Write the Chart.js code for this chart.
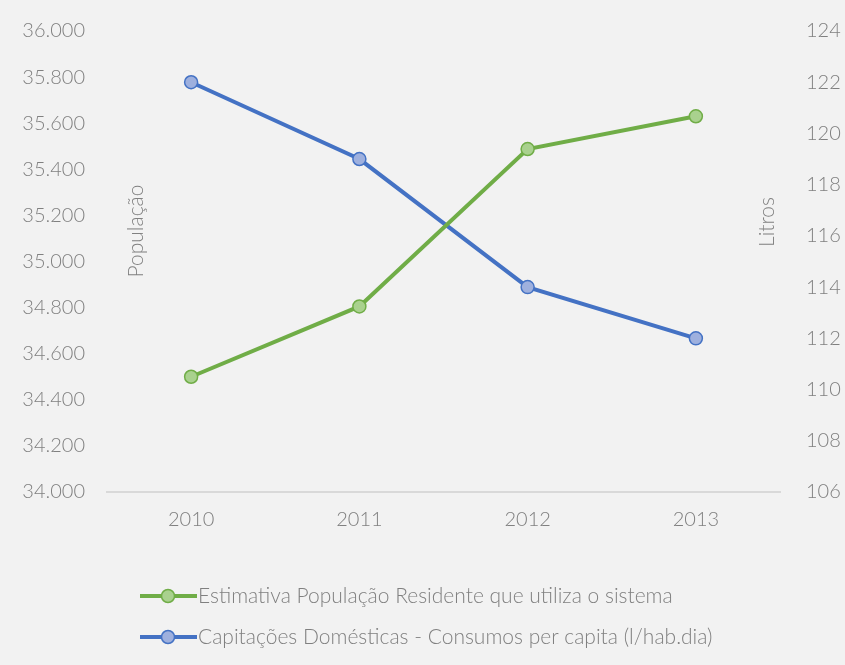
<!DOCTYPE html>
<html>
<head>
<meta charset="utf-8">
<script src="https://cdn.jsdelivr.net/npm/chart.js@4"></script>
<style>
  html, body { margin: 0; padding: 0; background: #f2f2f2; }
  #wrap { width: 845px; height: 665px; }
</style>
</head>
<body>
<div id="wrap"><canvas id="c" width="845" height="665"></canvas></div>
<script>
const categories = ['2010', '2011', '2012', '2013'];
const populacao = [34500, 34805, 35488, 35630];
const capitacoes = [122, 119, 114, 112];
const seriesNames = [
  'Estimativa População Residente que utiliza o sistema',
  'Capitações Domésticas - Consumos per capita (l/hab.dia)'
];
const leftTitle = 'População';
const rightTitle = 'Litros';

const FONT = 'Lato, "Open Sans", sans-serif';
const TXT = '#808080';
const GREEN = '#70ad47', GREEN_FILL = '#a9d18e';
const BLUE = '#4472c4', BLUE_FILL = '#9eb0de';

const fmtPT = v => {
  const s = Math.round(v).toString();
  return s.replace(/\B(?=(\d{3})+(?!\d))/g, '.');
};

const decor = {
  id: 'decor',
  beforeDraw(chart) {
    const ctx = chart.ctx;
    ctx.save();
    ctx.fillStyle = '#f2f2f2';
    ctx.fillRect(0, 0, chart.width, chart.height);
    ctx.restore();
  },
  afterDraw(chart) {
    const ctx = chart.ctx;
    const a = chart.chartArea;
    ctx.save();
    ctx.fillStyle = TXT;
    ctx.font = '300 21px ' + FONT;
    ctx.textAlign = 'center';
    ctx.textBaseline = 'middle';
    // axis titles
    ctx.save();
    ctx.translate(a.left + 29, a.top + 200);
    ctx.rotate(-Math.PI / 2);
    ctx.fillText(leftTitle, 0, 0);
    ctx.restore();
    ctx.save();
    ctx.translate(a.right - 13, a.top + 191);
    ctx.rotate(-Math.PI / 2);
    ctx.fillText(rightTitle, 0, 0);
    ctx.restore();
    // legend
    const rows = [596, 637];
    chart.data.datasets.forEach((ds, i) => {
      const y = rows[i];
      ctx.strokeStyle = ds.borderColor;
      ctx.lineWidth = 4;
      ctx.beginPath();
      ctx.moveTo(140, y);
      ctx.lineTo(197, y);
      ctx.stroke();
      ctx.beginPath();
      ctx.arc(168, y, 6.5, 0, Math.PI * 2);
      ctx.fillStyle = ds.pointBackgroundColor;
      ctx.fill();
      ctx.lineWidth = 1.5;
      ctx.stroke();
      ctx.fillStyle = TXT;
      ctx.textAlign = 'left';
      ctx.fillText(ds.label, 198, y);
    });
    ctx.restore();
  }
};

function fitY(w) {
  return s => { s.width = w; s.paddingTop = 0; s.paddingBottom = 0; };
}

new Chart(document.getElementById('c'), {
  type: 'line',
  data: {
    labels: categories,
    datasets: [
      {
        label: seriesNames[0],
        data: populacao,
        yAxisID: 'y',
        borderColor: GREEN,
        backgroundColor: GREEN,
        pointBackgroundColor: GREEN_FILL,
        pointBorderColor: GREEN,
        pointBorderWidth: 1.5,
        pointRadius: 6.5,
        borderWidth: 4,
        tension: 0
      },
      {
        label: seriesNames[1],
        data: capitacoes,
        yAxisID: 'y1',
        borderColor: BLUE,
        backgroundColor: BLUE,
        pointBackgroundColor: BLUE_FILL,
        pointBorderColor: BLUE,
        pointBorderWidth: 1.5,
        pointRadius: 6.5,
        borderWidth: 4,
        tension: 0
      }
    ]
  },
  options: {
    responsive: false,
    animation: false,
    layout: { padding: { top: 31, left: 0, right: 0, bottom: 0 } },
    plugins: { legend: { display: false }, tooltip: { enabled: false } },
    scales: {
      x: {
        offset: true,
        grid: { display: false, drawTicks: false },
        border: { display: true, color: '#d9d9d9', width: 2 },
        ticks: { color: TXT, font: { family: FONT, size: 20, weight: 300 }, padding: 16 },
        afterFit(s) { s.height = 173; s.paddingLeft = 0; s.paddingRight = 0; }
      },
      y: {
        position: 'left',
        min: 34000, max: 36000,
        grid: { display: false, drawTicks: false },
        border: { display: false },
        ticks: {
          stepSize: 200,
          color: TXT,
          font: { family: FONT, size: 20, weight: 300 },
          padding: 22,
          callback: v => fmtPT(v)
        },
        afterFit: fitY(107)
      },
      y1: {
        position: 'right',
        min: 106, max: 124,
        grid: { display: false, drawTicks: false },
        border: { display: false },
        ticks: {
          stepSize: 2,
          color: TXT,
          font: { family: FONT, size: 20, weight: 300 },
          padding: 26
        },
        afterFit: fitY(65)
      }
    }
  },
  plugins: [decor]
});
</script>
</body>
</html>
